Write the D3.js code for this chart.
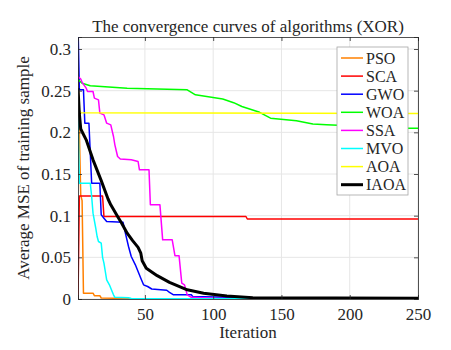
<!DOCTYPE html>
<html>
<head>
<meta charset="utf-8">
<script src="https://cdn.jsdelivr.net/npm/d3@7"></script>
<style>
  body { margin: 0; background: #fff; }
  text { font-family: "Liberation Serif", "Times New Roman", serif; fill: #262626; }
</style>
</head>
<body>
<div id="app"></div>
<script>
// [iteration, average MSE] points
let PSO  = [[1,0.283],[2,0.2],[3,0.125],[4,0.118],[5,0.007],[12,0.007],[13,0.004],[17,0.004],[18,0.0012],[30,0.0008],[40,0.0003],[60,0.0001],[250,0.0001]]
let SCA  = [[1,0],[2,0.1235],[19,0.1235],[20,0.099],[124,0.099],[125,0.096],[250,0.096]]
let GWO  = [[1,0.33],[2,0.251],[5,0.251],[6,0.211],[9,0.211],[10,0.175],[11,0.139],[17,0.139],[18,0.101],[20,0.097],[22,0.093],[34,0.092],[36,0.077],[38,0.063],[40,0.051],[43,0.041],[45,0.033],[47,0.025],[49,0.017],[52,0.015],[55,0.012],[66,0.0105],[68,0.008],[71,0.005],[84,0.005],[85,0.003],[110,0.002],[130,0.001],[250,0.0005]]
let WOA  = [[1,0.263],[4,0.259],[10,0.256],[37,0.253],[81,0.251],[87,0.245],[107,0.24],[115,0.2356],[121,0.231],[134,0.224],[142,0.217],[161,0.214],[173,0.21],[183,0.209],[243,0.205],[250,0.205]]
let SSA  = [[1,0.267],[3,0.264],[4,0.26],[7,0.253],[8,0.249],[12,0.249],[13,0.241],[16,0.239],[17,0.223],[20,0.221],[22,0.211],[25,0.209],[27,0.195],[28,0.185],[30,0.171],[32,0.168],[40,0.167],[45,0.165],[46,0.155],[53,0.155],[54,0.113],[61,0.113],[63,0.071],[70,0.071],[72,0.052],[75,0.052],[77,0.019],[79,0.017],[81,0.005],[84,0.002],[100,0.001],[250,0.0005]]
let MVO  = [[1,0.222],[2,0.139],[10,0.139],[11,0.123],[12,0.103],[14,0.085],[15,0.075],[16,0.069],[18,0.067],[19,0.05],[20,0.043],[21,0.033],[22,0.023],[24,0.017],[26,0.009],[27,0.005],[28,0.002],[38,0.0015],[40,0.0005],[250,0.0002]]
let AOA  = [[1,0.229],[3,0.2235],[250,0.2225]]
let IAOA = [[1,0.253],[2,0.222],[3,0.204],[7,0.191],[12,0.167],[18,0.142],[23,0.12],[25,0.113],[30,0.099],[33,0.091],[37,0.079],[41,0.07],[45,0.062],[47,0.055],[48,0.046],[51,0.037],[59,0.028],[68,0.02],[81,0.011],[93,0.007],[110,0.0036],[129,0.0016],[250,0.001]]

let names  = ["PSO", "SCA", "GWO", "WOA", "SSA", "MVO", "AOA", "IAOA"]
let series = [PSO, SCA, GWO, WOA, SSA, MVO, AOA, IAOA]
let colors = ["#ff8000", "#ff0000", "#0000ff", "#00ff00", "#ff00ff", "#00ffff", "#ffff00", "#000000"]

let xTicks = [50, 100, 150, 200, 250]
let yTicks = [0, 0.05, 0.1, 0.15, 0.2, 0.25, 0.3]

let titleText = "The convergence curves of algorithms (XOR)"
let xLabel = "Iteration"
let yLabel = "Average MSE of training sample"

let serif = '"Liberation Serif", "Times New Roman", serif'

let W = 451, H = 350
let margin = {top: 37, right: 33, bottom: 51, left: 78}
let width = W - margin.left - margin.right
let height = H - margin.top - margin.bottom

let svg = d3.select("#app").append("svg")
    .attr("width", W)
    .attr("height", H)

let g = svg.append("g")
    .attr("transform", `translate(${margin.left},${margin.top})`)

let x = d3.scaleLinear().domain([1, 250]).range([0, width])
let y = d3.scaleLinear().domain([0, 0.3144]).range([height, 0])

// grid
g.append("g").selectAll("line")
    .data(xTicks).enter().append("line")
    .attr("x1", d => x(d)).attr("x2", d => x(d))
    .attr("y1", 0).attr("y2", height)
    .attr("stroke", "#e6e6e6")
g.append("g").selectAll("line")
    .data(yTicks).enter().append("line")
    .attr("x1", 0).attr("x2", width)
    .attr("y1", d => y(d)).attr("y2", d => y(d))
    .attr("stroke", "#e6e6e6")

// curves
g.append("clipPath").attr("id", "clip")
    .append("rect").attr("width", width).attr("height", height)

let line = d3.line().x(d => x(d[0])).y(d => y(d[1]))

g.append("g").attr("clip-path", "url(#clip)")
    .selectAll("path")
    .data(series).enter().append("path")
    .attr("d", line)
    .attr("fill", "none")
    .attr("stroke", (d, i) => colors[i])
    .attr("stroke-width", (d, i) => names[i] == "IAOA" ? 3 : 1.5)
    .attr("stroke-linejoin", "round")

// axes, ticks inside like matlab
let axisColor = "#262626"
let axes = g.append("g").attr("class", "axes")
axes.append("g").attr("transform", `translate(0,${height})`)
    .call(d3.axisBottom(x).tickValues(xTicks).tickSize(-4).tickPadding(9))
axes.append("g")
    .call(d3.axisLeft(y).tickValues(yTicks).tickSize(-4).tickPadding(7).tickFormat(d3.format("~g")))
axes.append("g")
    .call(d3.axisTop(x).tickValues(xTicks).tickSize(-4).tickFormat(""))
axes.append("g").attr("transform", `translate(${width},0)`)
    .call(d3.axisRight(y).tickValues(yTicks).tickSize(-4).tickFormat(""))

axes.selectAll("g").attr("font-family", serif).attr("font-size", 17)
axes.selectAll(".domain, .tick line").attr("stroke", axisColor).attr("stroke-width", 0.8)
axes.selectAll(".tick text")
    .style("font-family", serif)
    .style("font-size", "17px")
    .attr("fill", axisColor)

// titles
svg.append("text")
    .attr("x", margin.left + width / 2).attr("y", 32)
    .attr("text-anchor", "middle")
    .style("font-size", "17px")
    .text(titleText)

svg.append("text")
    .attr("x", margin.left + width / 2).attr("y", 338)
    .attr("text-anchor", "middle")
    .style("font-size", "17px")
    .text(xLabel)

svg.append("text")
    .attr("transform", `translate(${29},${margin.top + height / 2}) rotate(-90)`)
    .attr("text-anchor", "middle")
    .style("font-size", "17px")
    .text(yLabel)

// legend
let legend = svg.append("g").attr("transform", "translate(337,47)")
legend.append("rect")
    .attr("width", 71).attr("height", 148)
    .attr("fill", "#fff").attr("stroke", "#a6a6a6").attr("stroke-width", 0.8)

let items = legend.selectAll("g")
    .data(names).enter().append("g")
    .attr("transform", (d, i) => `translate(0,${11 + i * 18.1})`)
items.append("line")
    .attr("x1", 4).attr("x2", 26)
    .attr("stroke", (d, i) => colors[i])
    .attr("stroke-width", d => d == "IAOA" ? 3 : 1.5)
items.append("text")
    .attr("x", 29).attr("dy", "0.35em")
    .style("font-size", "16px")
    .text(d => d)
</script>
</body>
</html>
